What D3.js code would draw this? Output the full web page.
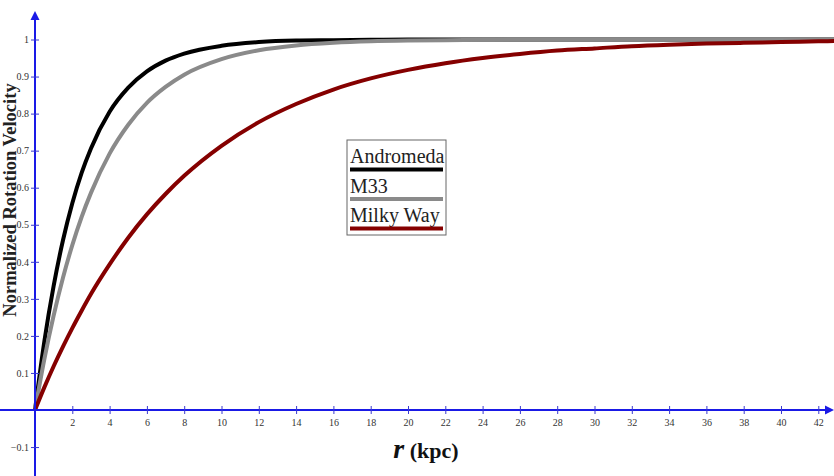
<!DOCTYPE html>
<html>
<head>
<meta charset="utf-8">
<script src="https://cdn.jsdelivr.net/npm/d3@7"></script>
<style>
  html, body { margin: 0; padding: 0; background: #fff; }
  svg { display: block; }
</style>
</head>
<body>
<div id="chart"></div>
<script>
// values
var radius = [0, 0.5, 1, 1.5, 2, 2.5, 3, 4, 5, 6, 7, 8, 10, 12, 14, 16, 18, 20, 22, 24, 26, 28, 30, 32, 34, 36, 38, 40, 42, 43];
var andromeda = [0, 0.185, 0.335, 0.458, 0.558, 0.640, 0.706, 0.805, 0.870, 0.914, 0.943, 0.962, 0.983, 0.993, 0.997, 0.998, 0.999, 1, 1, 1, 1, 1, 1, 1, 1, 1, 1, 1, 1, 1];
var m33 = [0, 0.137, 0.255, 0.357, 0.445, 0.521, 0.586, 0.692, 0.770, 0.829, 0.872, 0.905, 0.947, 0.971, 0.984, 0.991, 0.995, 0.997, 0.998, 0.999, 1, 1, 1, 1, 1, 1, 1, 1, 1, 1];
var milkyWay = [0, 0.061, 0.118, 0.171, 0.221, 0.268, 0.313, 0.393, 0.465, 0.528, 0.583, 0.632, 0.713, 0.777, 0.826, 0.865, 0.895, 0.918, 0.936, 0.950, 0.961, 0.970, 0.976, 0.982, 0.986, 0.989, 0.991, 0.993, 0.995, 0.996];

var seriesNames = ['Andromeda', 'M33', 'Milky Way'];
var seriesColors = ['#000000', '#8a8a8a', '#850000'];
var xTicks = [2, 4, 6, 8, 10, 12, 14, 16, 18, 20, 22, 24, 26, 28, 30, 32, 34, 36, 38, 40, 42];
var yTicks = [-0.1, 0.1, 0.2, 0.3, 0.4, 0.5, 0.6, 0.7, 0.8, 0.9, 1];

var width = 834;
var height = 476;
var axisColor = '#1a1ae6';

var svg = d3.select('#chart')
    .append('svg')
    .attr('width', width)
    .attr('height', height);

var x = d3.scaleLinear().domain([0, 42]).range([35, 818.3]);
var y = d3.scaleLinear().domain([0, 1]).range([410, 39.5]);

// curves
var allSeries = [andromeda, m33, milkyWay];
var line = d3.line()
    .x(function(d) { return x(d[0]); })
    .y(function(d) { return y(d[1]); })
    .curve(d3.curveMonotoneX);

allSeries.forEach(function(vals, i) {
    var pts = radius.map(function(r, j) { return [r, vals[j]]; });
    svg.append('path')
        .datum(pts)
        .attr('fill', 'none')
        .attr('stroke', seriesColors[i])
        .attr('stroke-width', 4)
        .attr('d', line);
});

// axes lines with arrows
svg.append('line')
    .attr('x1', 0).attr('x2', width - 6)
    .attr('y1', y(0)).attr('y2', y(0))
    .attr('stroke', axisColor).attr('stroke-width', 2);
svg.append('path')
    .attr('d', 'M' + width + ',' + y(0) + 'l-9,-4.5l0,9z')
    .attr('fill', axisColor);

svg.append('line')
    .attr('x1', x(0)).attr('x2', x(0))
    .attr('y1', height).attr('y2', 18)
    .attr('stroke', axisColor).attr('stroke-width', 2);
svg.append('path')
    .attr('d', 'M' + x(0) + ',11l-4.5,9l9,0z')
    .attr('fill', axisColor);

// x ticks
var xAxis = svg.append('g')
    .attr('transform', 'translate(0,' + y(0) + ')')
    .call(d3.axisBottom(x).tickValues(xTicks).tickSize(4).tickFormat(d3.format('d')));
xAxis.select('.domain').remove();
xAxis.selectAll('.tick line').attr('y1', -4).attr('y2', 4).attr('stroke', '#3a3ad0').attr('stroke-width', 1);
xAxis.selectAll('.tick text')
    .attr('y', 9)
    .attr('fill', '#333')
    .style('font-family', '"Liberation Serif", "Times New Roman", serif')
    .style('font-size', '10px');

// y ticks
var yAxis = svg.append('g')
    .attr('transform', 'translate(' + x(0) + ',0)')
    .call(d3.axisLeft(y).tickValues(yTicks).tickSize(4).tickFormat(function(d) { return d3.format('')(+d.toFixed(1)); }));
yAxis.select('.domain').remove();
yAxis.selectAll('.tick line').attr('x1', -4).attr('x2', 4).attr('stroke', '#3a3ad0').attr('stroke-width', 1);
yAxis.selectAll('.tick text')
    .attr('x', -6)
    .attr('fill', '#333')
    .style('font-family', '"Liberation Serif", "Times New Roman", serif')
    .style('font-size', '10px');

// axis titles
svg.append('text')
    .attr('transform', 'translate(16,200) rotate(-90)')
    .attr('text-anchor', 'middle')
    .style('font-family', '"Liberation Serif", "Times New Roman", serif')
    .style('font-weight', 'bold')
    .style('font-size', '18.5px')
    .attr('fill', '#222')
    .text('Normalized Rotation Velocity');

var xTitle = svg.append('text')
    .attr('x', 426)
    .attr('y', 458)
    .attr('text-anchor', 'middle')
    .style('font-family', '"Liberation Serif", "Times New Roman", serif')
    .style('font-weight', 'bold')
    .attr('fill', '#111');
xTitle.append('tspan').style('font-style', 'italic').style('font-size', '28px').text('r');
xTitle.append('tspan').style('font-size', '22px').text(' (kpc)');

// legend
var legend = svg.append('g');
legend.append('rect')
    .attr('x', 347).attr('y', 140)
    .attr('width', 99).attr('height', 95)
    .attr('fill', '#fff')
    .attr('stroke', '#666')
    .attr('stroke-width', 1);

seriesNames.forEach(function(name, i) {
    var base = 163 + i * 29.5;
    legend.append('text')
        .attr('x', 350)
        .attr('y', base)
        .style('font-family', '"Liberation Serif", "Times New Roman", serif')
        .style('font-size', '20px')
        .attr('fill', '#222')
        .text(name);
    legend.append('line')
        .attr('x1', 350).attr('x2', 443)
        .attr('y1', base + 6.5).attr('y2', base + 6.5)
        .attr('stroke', seriesColors[i])
        .attr('stroke-width', 4);
});
</script>
</body>
</html>
